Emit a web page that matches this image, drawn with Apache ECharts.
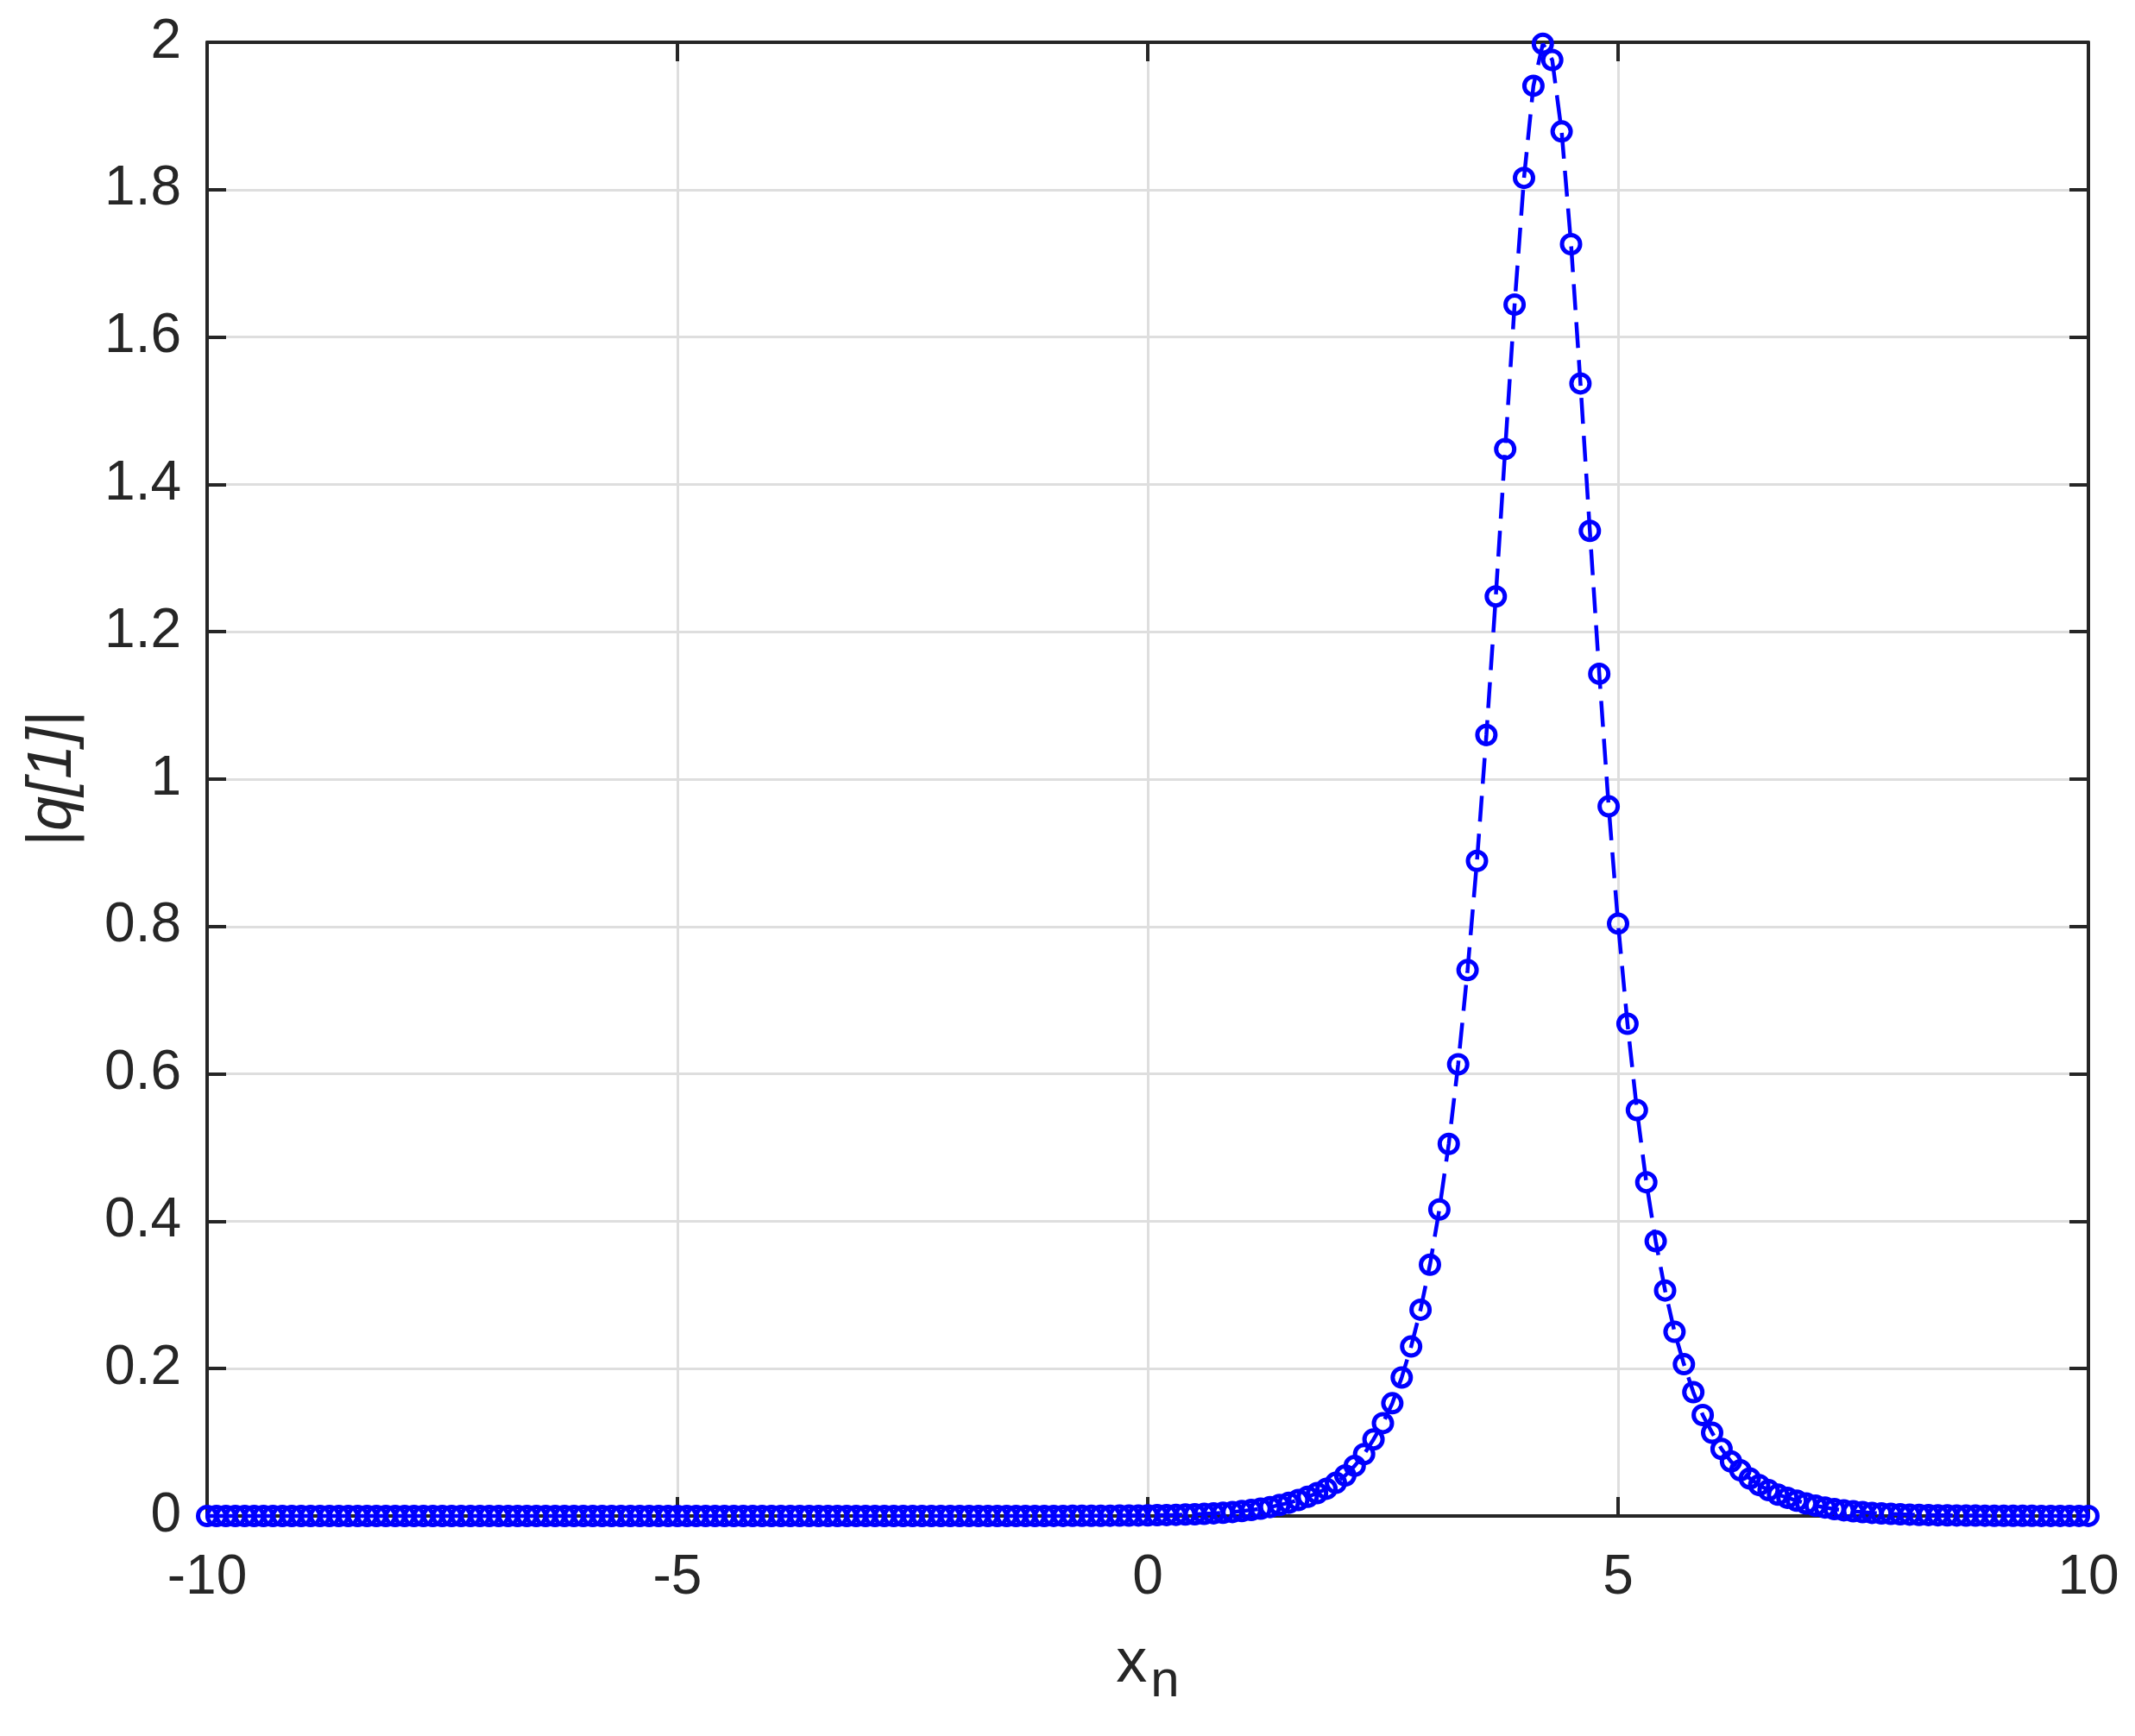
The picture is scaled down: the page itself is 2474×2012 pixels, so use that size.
<!DOCTYPE html>
<html>
<head>
<meta charset="utf-8">
<script src="https://cdn.jsdelivr.net/npm/echarts@6/dist/echarts.min.js"></script>
<style>
html,body{margin:0;padding:0;background:#fff;}
#c{width:2474px;height:2012px;}
</style>
</head>
<body>
<div id="c"></div>
<script>
// x_n sample positions
var xs = [
-10,-9.9,-9.8,-9.7,-9.6,-9.5,-9.4,-9.3,-9.2,-9.1,
-9,-8.9,-8.8,-8.7,-8.6,-8.5,-8.4,-8.3,-8.2,-8.1,
-8,-7.9,-7.8,-7.7,-7.6,-7.5,-7.4,-7.3,-7.2,-7.1,
-7,-6.9,-6.8,-6.7,-6.6,-6.5,-6.4,-6.3,-6.2,-6.1,
-6,-5.9,-5.8,-5.7,-5.6,-5.5,-5.4,-5.3,-5.2,-5.1,
-5,-4.9,-4.8,-4.7,-4.6,-4.5,-4.4,-4.3,-4.2,-4.1,
-4,-3.9,-3.8,-3.7,-3.6,-3.5,-3.4,-3.3,-3.2,-3.1,
-3,-2.9,-2.8,-2.7,-2.6,-2.5,-2.4,-2.3,-2.2,-2.1,
-2,-1.9,-1.8,-1.7,-1.6,-1.5,-1.4,-1.3,-1.2,-1.1,
-1,-0.9,-0.8,-0.7,-0.6,-0.5,-0.4,-0.3,-0.2,-0.1,
0,0.1,0.2,0.3,0.4,0.5,0.6,0.7,0.8,0.9,
1,1.1,1.2,1.3,1.4,1.5,1.6,1.7,1.8,1.9,
2,2.1,2.2,2.3,2.4,2.5,2.6,2.7,2.8,2.9,
3,3.1,3.2,3.3,3.4,3.5,3.6,3.7,3.8,3.9,
4,4.1,4.2,4.3,4.4,4.5,4.6,4.7,4.8,4.9,
5,5.1,5.2,5.3,5.4,5.5,5.6,5.7,5.8,5.9,
6,6.1,6.2,6.3,6.4,6.5,6.6,6.7,6.8,6.9,
7,7.1,7.2,7.3,7.4,7.5,7.6,7.7,7.8,7.9,
8,8.1,8.2,8.3,8.4,8.5,8.6,8.7,8.8,8.9,
9,9.1,9.2,9.3,9.4,9.5,9.6,9.7,9.8,9.9,
10
];
// |q[1]| values
var ys = [
0,0,0,0,0,0,0,0,0,0,
0,0,0,0,0,0,0,0,0,0,
0,0,0,0,0,0,0,0,0,0,
0,0,0,0,0,0,0,0,0,0,
0,0,0,0,0,0,0,0,0,0,
0,0,0,0,0,0,0,0,0,0,
0,0,0,0,0,0,0,0,0,0,
0,0,0,0,0,0,0,0,0,0,
0,0,0,0,0,0,0,0,0,0,
0.0001,0.0001,0.0002,0.0002,0.0003,0.0003,0.0004,0.0005,0.0006,0.0007,
0.0009,0.0011,0.0013,0.0016,0.0020,0.0024,0.0030,0.0036,0.0044,0.0054,
0.0066,0.0081,0.0099,0.0121,0.0148,0.018,0.0216,0.026,0.031,0.037,
0.045,0.055,0.068,0.084,0.104,0.126,0.153,0.188,0.230,0.280,
0.341,0.416,0.505,0.613,0.741,0.889,1.060,1.248,1.448,1.644,
1.816,1.941,1.998,1.976,1.879,1.726,1.537,1.337,1.143,0.963,
0.804,0.668,0.551,0.453,0.373,0.306,0.250,0.206,0.168,0.137,
0.113,0.091,0.074,0.062,0.051,0.042,0.035,0.029,0.0247,0.0208,
0.017,0.014,0.0115,0.0094,0.0077,0.0063,0.0052,0.0042,0.0035,0.0028,
0.0023,0.0019,0.0015,0.0013,0.0010,0.0008,0.0007,0.0006,0.0005,0.0004,
0.0003,0.0003,0.0002,0.0002,0.0002,0.0001,0.0001,0.0001,0.0001,0.0001,
0.0001
];
var xRange = [-10, 10];
var xStep = 5;
var yRange = [0, 2];
var yStep = 0.2;
var xLabel = '{v|x}{s|n}';
var yLabel = '|q[1]|';

var FONT = "'Liberation Sans', Arial, Helvetica, sans-serif";
var DARK = '#262626';
var GRID = '#dedede';

var points = xs.map(function (x, i) { return [x, ys[i]]; });

function fmt(v) { return String(Math.round(v * 10) / 10); }

var chart = echarts.init(document.getElementById('c'), null, {renderer: 'canvas'});
var commonLine = {show: true, onZero: false, lineStyle: {color: DARK, width: 4}};
var commonTick = {show: true, inside: true, length: 22, lineStyle: {color: DARK, width: 4}};

chart.setOption({
  animation: false,
  backgroundColor: '#ffffff',
  grid: {left: 240, right: 54, top: 49, bottom: 255, containLabel: false},
  xAxis: [{
    type: 'value', position: 'bottom',
    min: xRange[0], max: xRange[1], interval: xStep,
    axisLine: commonLine, axisTick: commonTick,
    axisLabel: {show: true, margin: 40, fontSize: 64, fontFamily: FONT, color: DARK, formatter: fmt},
    splitLine: {show: true, lineStyle: {color: GRID, width: 3}},
    name: xLabel, nameLocation: 'middle', nameGap: 156,
    nameTextStyle: {
      rich: {
        v: {fontSize: 72, fontFamily: FONT, color: DARK, lineHeight: 72, padding: [0, 0, 40, 0]},
        s: {fontSize: 60, fontFamily: FONT, color: DARK, lineHeight: 60, padding: [0, 0, 0, 4]}
      }
    }
  }, {
    type: 'value', position: 'top',
    min: xRange[0], max: xRange[1], interval: xStep,
    axisLine: commonLine, axisTick: commonTick,
    axisLabel: {show: false}, splitLine: {show: false}
  }],
  yAxis: [{
    type: 'value', position: 'left',
    min: yRange[0], max: yRange[1], interval: yStep,
    axisLine: commonLine, axisTick: commonTick,
    axisLabel: {show: true, margin: 30, fontSize: 64, fontFamily: FONT, color: DARK, formatter: fmt},
    splitLine: {show: true, lineStyle: {color: GRID, width: 3}},
    name: yLabel, nameLocation: 'middle', nameGap: 142,
    nameTextStyle: {fontSize: 72, fontStyle: 'italic', fontFamily: FONT, color: DARK}
  }, {
    type: 'value', position: 'right',
    min: yRange[0], max: yRange[1], interval: yStep,
    axisLine: commonLine, axisTick: commonTick,
    axisLabel: {show: false}, splitLine: {show: false}
  }],
  series: [{
    type: 'line',
    xAxisIndex: 0, yAxisIndex: 0,
    data: points,
    clip: false,
    symbol: 'circle',
    symbolSize: 21,
    showAllSymbol: true,
    itemStyle: {color: 'rgba(0,0,0,0)', borderColor: '#0000ff', borderWidth: 5},
    lineStyle: {color: '#0000ff', width: 4.5, type: [30, 14]},
    emphasis: {disabled: true},
    z: 5
  }]
});
</script>
</body>
</html>
